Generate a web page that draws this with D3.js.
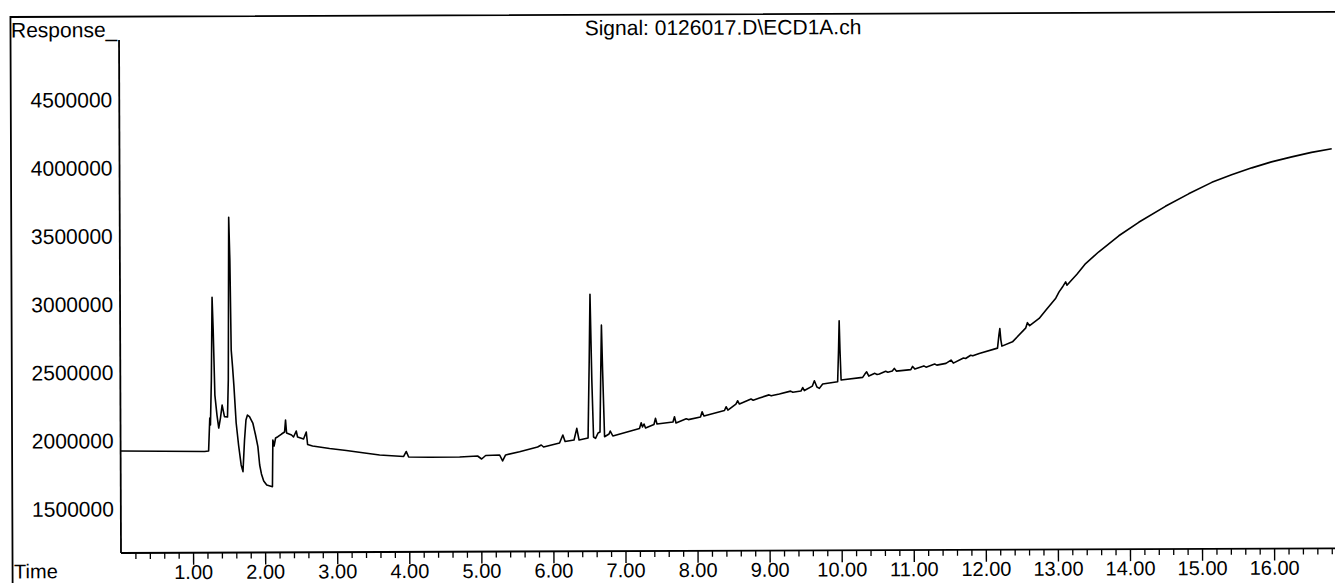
<!DOCTYPE html>
<html>
<head>
<meta charset="utf-8">
<script src="https://cdn.jsdelivr.net/npm/d3@7/dist/d3.min.js"></script>
<style>
  html, body { margin: 0; padding: 0; background: #ffffff; }
  svg { display: block; }
  text { font-family: "Liberation Sans", Arial, sans-serif; fill: #000; }
</style>
</head>
<body>
<svg id="chart" width="1335" height="583"></svg>
<script>
// ECD chromatogram trace: retention time (min) and detector response
const retentionTime = [
  0.000, 1.166, 1.221, 1.239, 1.248, 1.263, 1.277, 1.291, 1.311, 1.339,
  1.363, 1.387, 1.411, 1.443, 1.485, 1.498, 1.512, 1.526, 1.540, 1.558,
  1.575, 1.605, 1.637, 1.672, 1.697, 1.720, 1.741, 1.762, 1.790, 1.836,
  1.873, 1.905, 1.929, 1.953, 1.984, 2.026, 2.105, 2.113, 2.130, 2.151,
  2.183, 2.234, 2.276, 2.290, 2.304, 2.373, 2.400, 2.438, 2.456, 2.539,
  2.577, 2.595, 2.664, 2.900, 3.132, 3.386, 3.594, 3.927, 3.964, 3.996,
  4.287, 4.704, 4.953, 5.009, 5.065, 5.259, 5.300, 5.342, 5.536, 5.786,
  5.837, 5.869, 6.091, 6.137, 6.168, 6.292, 6.331, 6.362, 6.487, 6.507,
  6.521, 6.542, 6.563, 6.591, 6.626, 6.653, 6.667, 6.678, 6.692, 6.716,
  6.778, 6.795, 6.831, 7.201, 7.225, 7.243, 7.264, 7.285, 7.402, 7.423,
  7.444, 7.666, 7.687, 7.708, 7.850, 7.880, 8.048, 8.071, 8.096, 8.381,
  8.404, 8.429, 8.540, 8.565, 8.589, 8.750, 8.780, 8.867, 9.000, 9.030,
  9.144, 9.300, 9.330, 9.443, 9.468, 9.491, 9.602, 9.630, 9.665, 9.699,
  9.745, 9.953, 9.967, 9.977, 9.987, 10.001, 10.300, 10.331, 10.356, 10.386,
  10.470, 10.500, 10.532, 10.620, 10.650, 10.712, 10.740, 10.768, 10.969, 10.994,
  11.025, 11.150, 11.180, 11.300, 11.330, 11.457, 11.527, 11.559, 11.700, 11.730,
  11.800, 11.830, 11.919, 12.173, 12.193, 12.206, 12.220, 12.234, 12.381, 12.564,
  12.589, 12.620, 12.752, 12.845, 12.984, 13.030, 13.085, 13.122, 13.140, 13.196,
  13.279, 13.400, 13.584, 13.862, 14.139, 14.510, 14.833, 15.156, 15.430, 15.711,
  15.984, 16.266, 16.540, 16.821
];

const response = [
  1927000, 1921000, 1924500, 2165500, 2114500, 2444000, 3051400, 2810000, 2334000, 2187300,
  2092200, 2165200, 2260600, 2176000, 2172700, 2443500, 3637000, 3322000, 2663000, 2538500,
  2406800, 2128600, 1967400, 1821000, 1771900, 2003800, 2150200, 2186700, 2175700, 2128100,
  2040100, 1954500, 1820400, 1754500, 1703200, 1673800, 1661200, 2003000, 1959100, 2017700,
  2027100, 2046700, 2061300, 2149100, 2054000, 2039100, 2024500, 2068300, 2024400, 2009500,
  2060700, 1969200, 1958000, 1939300, 1924200, 1905400, 1890300, 1878600, 1915100, 1874900,
  1872100, 1873400, 1880200, 1858100, 1883700, 1886900, 1843000, 1886800, 1910600, 1944500,
  1959000, 1944300, 1973200, 2031600, 1983900, 1994700, 2080300, 1994500, 2009000, 2579900,
  3063000, 2433500, 2016100, 2006600, 2045300, 2052500, 2506400, 2835800, 2506400, 2018000,
  2037600, 2059600, 2022900, 2077000, 2119500, 2088000, 2109900, 2080600, 2105900, 2151300,
  2109600, 2123700, 2162500, 2116300, 2147000, 2141000, 2159500, 2198300, 2166800, 2206500,
  2234200, 2210000, 2253800, 2277800, 2253700, 2290000, 2281000, 2297000, 2320000, 2313000,
  2325800, 2347000, 2339000, 2347100, 2372600, 2350700, 2383300, 2422100, 2375900, 2366300,
  2397800, 2414100, 2646200, 2860700, 2646200, 2426500, 2445600, 2469800, 2486500, 2455000,
  2475000, 2466000, 2469400, 2490000, 2483000, 2490900, 2510700, 2490800, 2501400, 2524800,
  2505000, 2528000, 2519000, 2541000, 2533500, 2545800, 2569900, 2547800, 2585000, 2581000,
  2605000, 2600500, 2618100, 2656400, 2751500, 2799000, 2714900, 2670900, 2702100, 2802000,
  2842200, 2820200, 2872600, 2933200, 3020900, 3066800, 3108500, 3139900, 3115600, 3148500,
  3195900, 3274000, 3360000, 3476600, 3574900, 3691200, 3782100, 3865700, 3920000, 3970700,
  4014100, 4050100, 4082500, 4109000
];

const yTickValues = [1500000, 2000000, 2500000, 3000000, 3500000, 4000000, 4500000];
const xMajorTicks = [1, 2, 3, 4, 5, 6, 7, 8, 9, 10, 11, 12, 13, 14, 15, 16];
const xMinorTicks = d3.range(1, 85).map(i => +(i * 0.2).toFixed(1)).filter(v => !Number.isInteger(v));

const titleText = "Signal: 0126017.D\\ECD1A.ch";
const yLabelText = "Response_";
const xLabelText = "Time";

const W = 1335, H = 583;
const plot = { left: 121, right: 1335, top: 40, bottom: 553 };

const svg = d3.select("#chart");
svg.append("rect").attr("width", W).attr("height", H).attr("fill", "#fff");

// whole printout sits at a slight tilt
const g = svg.append("g")
  .attr("transform", `rotate(-0.22, ${plot.left}, ${plot.bottom})`);

const x = d3.scaleLinear().domain([0, 16.845]).range([plot.left, plot.right]);
const y = d3.scaleLinear().domain([1179000, 4940000]).range([plot.bottom, plot.top]);

// outer frame (top and left edges)
g.append("path")
  .attr("d", `M12.5,${H + 10} L12.5,16.6 L${W + 20},16.6`)
  .attr("fill", "none").attr("stroke", "#000").attr("stroke-width", 1.8);

// y axis: labels only
const yAxis = g.append("g")
  .attr("transform", `translate(${plot.left},0)`)
  .call(d3.axisLeft(y).tickValues(yTickValues).tickSize(0).tickPadding(7).tickFormat(d3.format("d")));
yAxis.select(".domain").remove();
yAxis.selectAll("text").style("font-size", "21px").attr("fill", "#000");

g.append("line")
  .attr("x1", plot.left).attr("x2", plot.left)
  .attr("y1", plot.top).attr("y2", plot.bottom)
  .attr("stroke", "#000").attr("stroke-width", 1.8);

// x axis: minor ticks every 0.2 min, major labelled ticks each minute
const xMinor = g.append("g")
  .attr("transform", `translate(0,${plot.bottom})`)
  .call(d3.axisBottom(x).tickValues(xMinorTicks).tickSize(6).tickFormat(""));
xMinor.select(".domain").remove();
xMinor.selectAll("line").attr("stroke", "#000").attr("stroke-width", 1.3);

const xMajor = g.append("g")
  .attr("transform", `translate(0,${plot.bottom})`)
  .call(d3.axisBottom(x).tickValues(xMajorTicks).tickSize(12).tickPadding(0).tickFormat(d3.format(".2f")));
xMajor.select(".domain").remove();
xMajor.selectAll("line").attr("stroke", "#000").attr("stroke-width", 1.4);
xMajor.selectAll("text").style("font-size", "20px").attr("fill", "#000");

g.append("line")
  .attr("x1", plot.left).attr("x2", W + 20)
  .attr("y1", plot.bottom).attr("y2", plot.bottom)
  .attr("stroke", "#000").attr("stroke-width", 1.8);

// chromatogram trace
const trace = retentionTime.map((t, i) => [t, response[i]]);
g.append("path")
  .datum(trace)
  .attr("fill", "none")
  .attr("stroke", "#000")
  .attr("stroke-width", 1.6)
  .attr("stroke-linejoin", "round")
  .attr("d", d3.line().x(d => x(d[0])).y(d => y(d[1])));

// labels
g.append("text").attr("x", 13).attr("y", 37).style("font-size", "21px").text(yLabelText);
g.append("text").attr("x", 725).attr("y", 37).attr("text-anchor", "middle").style("font-size", "21px").text(titleText);
g.append("text").attr("x", 14).attr("y", 578).style("font-size", "20px").text(xLabelText);
</script>
</body>
</html>
